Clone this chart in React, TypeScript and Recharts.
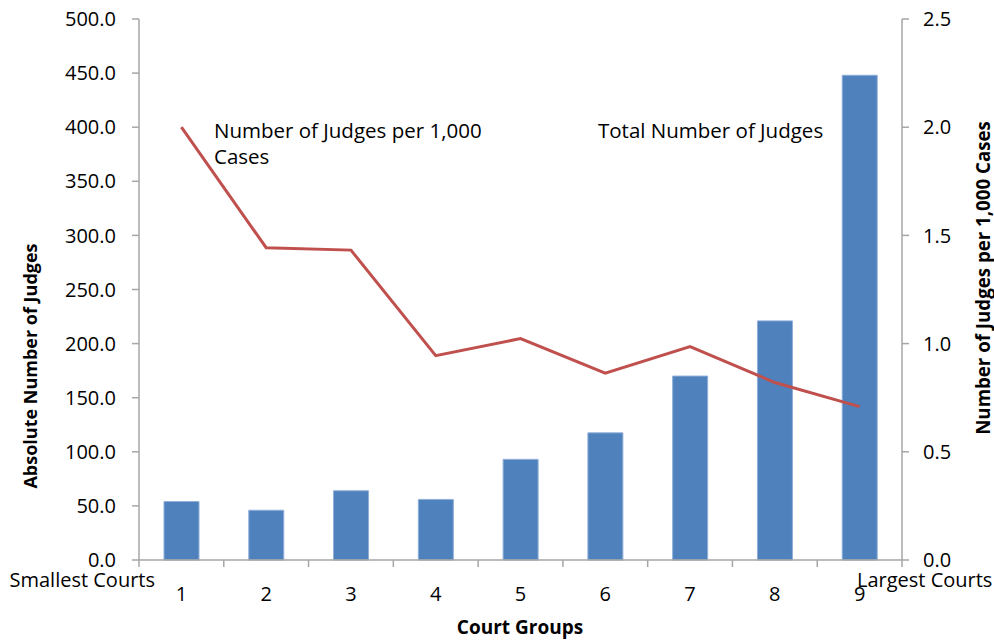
import { ComposedChart, Bar, Line, XAxis, YAxis } from "recharts";

// court groups 1 (smallest) .. 9 (largest)
const groups = [1, 2, 3, 4, 5, 6, 7, 8, 9];
const totalJudges = [54, 46, 64, 56, 93, 117.5, 170, 221, 448];
const judgesPer1000 = [2.0, 1.443, 1.432, 0.944, 1.023, 0.863, 0.986, 0.82, 0.709];
const leftTicks = [0, 50, 100, 150, 200, 250, 300, 350, 400, 450, 500];
const rightTicks = [0, 0.5, 1.0, 1.5, 2.0, 2.5];

const data = groups.map((g, i) => ({
  group: g,
  total: totalJudges[i],
  perThousand: judgesPer1000[i],
}));

// x ticks: boundaries between groups get a tick mark, group centres get a label
const xTicks = [...groups.map((g) => g - 0.5), ...groups, groups[groups.length - 1] + 0.5].sort((a, b) => a - b);

const AXIS = "#A6A6A6";
const FONT = "'Open Sans', sans-serif";
const tickText = { fill: "#000", fontSize: 20, fontFamily: FONT };

function XTick(props: any) {
  const { x, y, payload } = props;
  const v = payload.value as number;
  if (Number.isInteger(v)) {
    return (
      <text x={x} y={y + 41} textAnchor="middle" {...tickText}>{v}</text>
    );
  }
  return <line x1={x} x2={x} y1={y} y2={y + 7} stroke={AXIS} strokeWidth={1.5} />;
}

export default function App() {
  return (
    <div style={{ position: "absolute", left: 0, top: 0, background: "#fff" }}>
      <ComposedChart width={994} height={640} data={data}
        margin={{ top: 19, right: 0, bottom: 0, left: 0 }}>
        <XAxis dataKey="group" type="number" domain={[0.5, 9.5]} ticks={xTicks}
          allowDataOverflow interval={0} height={80}
          axisLine={{ stroke: AXIS, strokeWidth: 1.5 }} tickLine={false}
          tickSize={0} tickMargin={0} tick={<XTick />} />
        <YAxis yAxisId="left" domain={[0, 500]} ticks={leftTicks} width={139}
          tickFormatter={(v: number) => v.toFixed(1)} tick={tickText}
          axisLine={{ stroke: AXIS, strokeWidth: 1.5 }}
          tickLine={{ stroke: AXIS, strokeWidth: 1.5 }} tickSize={7} tickMargin={16} />
        <YAxis yAxisId="right" orientation="right" domain={[0, 2.5]} ticks={rightTicks} width={92}
          tickFormatter={(v: number) => v.toFixed(1)} tick={tickText}
          axisLine={{ stroke: AXIS, strokeWidth: 1.5 }}
          tickLine={{ stroke: AXIS, strokeWidth: 1.5 }} tickSize={7} tickMargin={14} />
        <Bar yAxisId="left" dataKey="total" fill="#4F81BD" stroke="#8FAFD8" strokeWidth={1}
          barSize={35} isAnimationActive={false} />
        <Line yAxisId="right" dataKey="perThousand" type="linear" stroke="#C0504D"
          strokeWidth={3} dot={false} activeDot={false} isAnimationActive={false} />

        <text x={214} y={138} fontSize={20.5} fontFamily={FONT} fill="#000">Number of Judges per 1,000</text>
        <text x={214} y={164} fontSize={20.5} fontFamily={FONT} fill="#000">Cases</text>
        <text x={598} y={138} fontSize={20.5} fontFamily={FONT} fill="#000">Total Number of Judges</text>

        <text x={155} y={587} textAnchor="end" fontSize={20} fontFamily={FONT} fill="#000">Smallest Courts</text>
        <text x={857} y={587} fontSize={20} fontFamily={FONT} fill="#000">Largest Courts</text>

        <text x={520} y={634} textAnchor="middle" fontSize={19} fontWeight={700} fontFamily={FONT} fill="#000">Court Groups</text>
        <text x={30} y={366} transform="rotate(-90 30 366)" textAnchor="middle" dominantBaseline="central"
          fontSize={18} fontWeight={700} fontFamily={FONT} fill="#000">Absolute Number of Judges</text>
        <text x={982} y={278} transform="rotate(-90 982 278)" textAnchor="middle" dominantBaseline="central"
          fontSize={18.7} fontWeight={700} fontFamily={FONT} fill="#000">Number of Judges per 1,000 Cases</text>
      </ComposedChart>
    </div>
  );
}
